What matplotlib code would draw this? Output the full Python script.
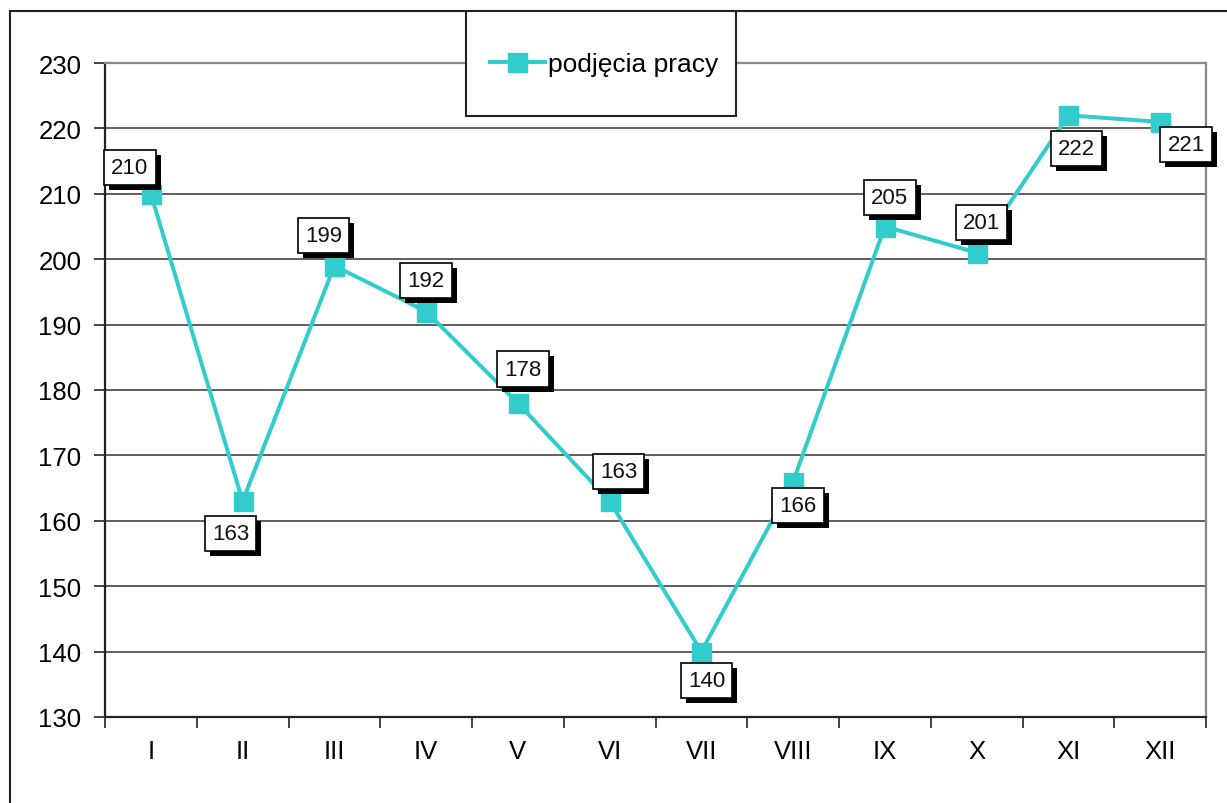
import matplotlib.pyplot as plt
import matplotlib.patheffects as pe
from matplotlib.patches import Rectangle
from matplotlib.lines import Line2D

months = ["I", "II", "III", "IV", "V", "VI", "VII", "VIII", "IX", "X", "XI", "XII"]
values = [210, 163, 199, 192, 178, 163, 140, 166, 205, 201, 222, 221]
series_name = "podjęcia pracy"

# label offsets from the point, in pixels (right, down)
label_offsets = [(-21, -26), (-12, 32), (-11, -30), (0, -31), (5, -34), (9, -30),
                 (5, 29), (5, 24), (5, -29), (5, -30), (8, 33), (26, 23)]

W, H = 1227, 804
DPI = 100
TEAL = "#33CCCC"
PX = 72 / DPI  # points per pixel

plt.rcParams["font.family"] = ["Liberation Sans", "DejaVu Sans"]

fig = plt.figure(figsize=(W / DPI, H / DPI), dpi=DPI)
ax = fig.add_axes([105 / W, 1 - 718 / H, (1206 - 105) / W, (718 - 64) / H])

x = list(range(len(months)))
ax.plot(x, values, color=TEAL, lw=4 * PX, marker="s", ms=19 * PX,
        mec=TEAL, mfc=TEAL, zorder=3, label=series_name)

ax.set_xlim(-0.5, len(months) - 0.5)
ax.set_ylim(130, 230)
ax.set_yticks(range(130, 231, 10))
ax.set_xticks(x)
ax.set_xticklabels(months)
ax.set_xticks([i - 0.5 for i in range(len(months) + 1)], minor=True)
ax.tick_params(axis="x", which="major", length=0, labelsize=18.5, pad=16)
ax.tick_params(axis="x", which="minor", length=8 * PX * 1.4, width=1.2, color="#222222")
ax.tick_params(axis="y", length=8 * PX * 1.4, width=1.2, labelsize=18.5, pad=9,
               color="#222222")
ax.yaxis.grid(True, color="#333333", lw=1.1)
ax.set_axisbelow(True)
for s in ["top", "right"]:
    ax.spines[s].set_color("#888888")
    ax.spines[s].set_linewidth(1.6)
for s in ["left", "bottom"]:
    ax.spines[s].set_color("#222222")
    ax.spines[s].set_linewidth(1.6)

# data labels, white box with a black drop shadow
shadow = [pe.SimplePatchShadow(offset=(5 * PX, -5 * PX), shadow_rgbFace="black", alpha=1),
          pe.Normal()]
for xi, v, (dx, dy) in zip(x, values, label_offsets):
    t = ax.annotate(str(v), (xi, v), xytext=(dx * PX, -dy * PX),
                    textcoords="offset points", ha="center", va="center",
                    fontsize=16, color="#111111",
                    bbox=dict(boxstyle="square,pad=0.32", lw=1.2, fc="white", ec="black"),
                    zorder=5)
    t.get_bbox_patch().set_path_effects(shadow)

# outer frame (left and top edges visible)
fig.add_artist(Line2D([10 / W, 10 / W], [0, 1 - 12 / H], color="#222222", lw=1.5))
fig.add_artist(Line2D([10 / W, 1], [1 - 12 / H, 1 - 12 / H], color="#222222", lw=1.5))

# legend box
fig.add_artist(Rectangle((466 / W, 1 - 117 / H), (736 - 466) / W, (117 - 12) / H,
                         transform=fig.transFigure, fc="white", ec="#222222",
                         lw=1.5, zorder=10))
leg = fig.legend(loc="center", bbox_to_anchor=(604 / W, 1 - 65 / H), frameon=False,
                 fontsize=19, handlelength=2.08, handletextpad=0.11, borderpad=0)
leg.set_zorder(11)

fig.savefig("out.png", dpi=DPI)
